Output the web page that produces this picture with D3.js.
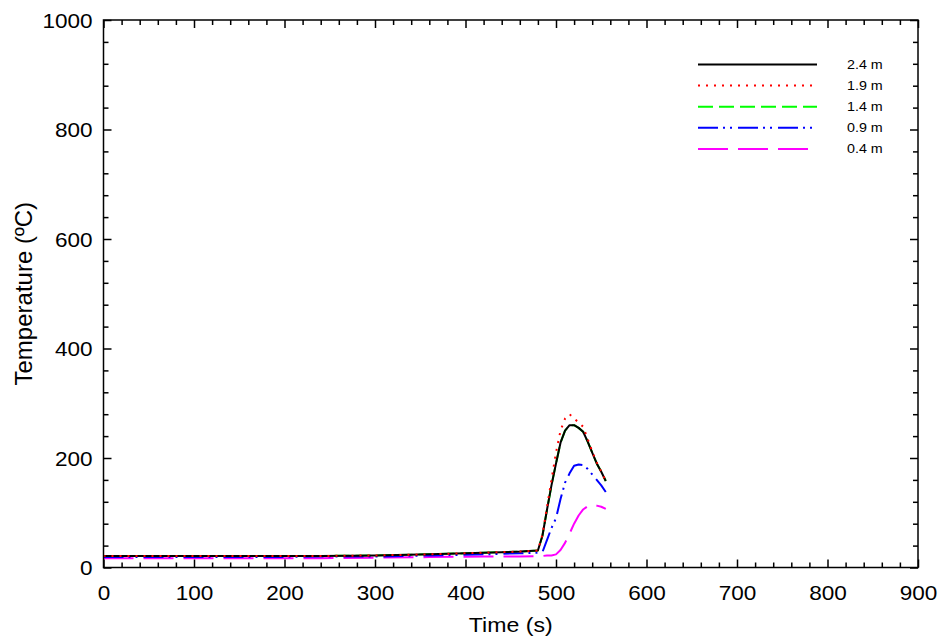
<!DOCTYPE html>
<html>
<head>
<meta charset="utf-8">
<script src="https://cdn.jsdelivr.net/npm/d3@7"></script>
<style>
  html, body { margin: 0; padding: 0; background: #fff; }
  svg text { font-family: "Liberation Sans", Arial, sans-serif; fill: #000; }
</style>
</head>
<body>
<svg id="chart" width="940" height="640"></svg>
<script>
// ---- Data ----
const times = [0, 60, 120, 180, 240, 300, 360, 420, 460, 480, 485, 490, 495, 500, 505, 510, 515, 520, 525, 530, 535, 540, 545, 550, 555];
const temp24 = [21, 21, 21, 21, 21, 22, 24, 27, 29, 31, 58, 105, 150, 190, 228, 250, 260, 260, 255, 248, 230, 210, 190, 175, 158];
const temp19 = [21, 21, 21, 21, 21, 22, 24, 27, 29, 31, 60, 110, 160, 210, 250, 272, 280, 272, 265, 257, 235, 212, 192, 175, 158];
const temp14 = [21, 21, 21, 21, 21, 22, 24, 27, 29, 31, 58, 105, 150, 190, 228, 250, 260, 260, 255, 248, 230, 210, 190, 175, 158];
const temp09 = [19, 19, 19, 19, 20, 20, 22, 24, 26, 27, 28, 50, 72, 90, 125, 155, 172, 186, 188, 187, 180, 170, 160, 150, 138];
const temp04 = [17, 17, 17, 17, 17, 18, 19, 20, 20, 21, 21, 22, 22, 24, 32, 45, 62, 80, 95, 106, 112, 114, 113, 111, 107];
const seriesNames = ["2.4 m", "1.9 m", "1.4 m", "0.9 m", "0.4 m"];
const xTicks = [0, 100, 200, 300, 400, 500, 600, 700, 800, 900];
const yTicks = [0, 200, 400, 600, 800, 1000];

const series = [
  { name: seriesNames[2], values: temp14, color: "#00ff00", dash: "15,6", width: 2 },
  { name: seriesNames[4], values: temp04, color: "#ff00ff", dash: "30,10", width: 2 },
  { name: seriesNames[3], values: temp09, color: "#0000ff", dash: "20,5,2,5,2,6", width: 2 },
  { name: seriesNames[0], values: temp24, color: "#000000", dash: null, width: 2 },
  { name: seriesNames[1], values: temp19, color: "#ff0000", dash: "2,6", width: 2 }
];
const legendOrder = [3, 4, 0, 2, 1];

// ---- Layout ----
const svg = d3.select("#chart");
const m = { left: 103.5, top: 20, right: 918, bottom: 567.5 };
const x = d3.scaleLinear().domain([0, 900]).range([m.left, m.right]);
const y = d3.scaleLinear().domain([0, 1000]).range([m.bottom, m.top]);
const SX = 1.1; // horizontal stretch of glyphs in the reference

const plot = svg.append("g");

// Lines
const line = d3.line().x((d, i) => x(times[i])).y(d => y(d));
series.forEach(s => {
  plot.append("path")
    .datum(s.values)
    .attr("d", line)
    .attr("fill", "none")
    .attr("stroke", s.color)
    .attr("stroke-width", s.width)
    .attr("stroke-dasharray", s.dash)
    .attr("stroke-linejoin", "round");
});

// Axes with inward ticks
const xMinor = d3.range(0, 901, 20).filter(v => v % 100 !== 0);
const yMinor = d3.range(0, 1001, 40).filter(v => v % 200 !== 0);

function axisGroup(axisFn, transform, ticks, size, showLabels) {
  const g = svg.append("g").attr("transform", transform)
    .call(axisFn.tickValues(ticks).tickSize(size).tickFormat(showLabels ? d3.format("d") : ""));
  g.select(".domain").remove();
  g.selectAll("line").attr("stroke", "#000").attr("stroke-width", 1.5);
  return g;
}
// bottom
const gb = axisGroup(d3.axisBottom(x), `translate(0,${m.bottom})`, xTicks, -8, true);
gb.selectAll("text").attr("x", 0).attr("y", 17.5).attr("dy", "0.71em")
  .attr("transform", `scale(${SX},1)`).style("font-size", "20.5px");
axisGroup(d3.axisBottom(x), `translate(0,${m.bottom})`, xMinor, -5, false);
// top
axisGroup(d3.axisTop(x), `translate(0,${m.top})`, xTicks, -8, false);
axisGroup(d3.axisTop(x), `translate(0,${m.top})`, xMinor, -5, false);
// left
const gl = axisGroup(d3.axisLeft(y), `translate(${m.left},0)`, yTicks, -8, true);
gl.selectAll("text").attr("x", -11 / SX).attr("dy", "0.35em")
  .attr("transform", `scale(${SX},1)`).style("font-size", "20.5px");
axisGroup(d3.axisLeft(y), `translate(${m.left},0)`, yMinor, -5, false);
// right
axisGroup(d3.axisRight(y), `translate(${m.right},0)`, yTicks, -8, false);
axisGroup(d3.axisRight(y), `translate(${m.right},0)`, yMinor, -5, false);

// Frame
svg.append("rect")
  .attr("x", m.left).attr("y", m.top)
  .attr("width", m.right - m.left).attr("height", m.bottom - m.top)
  .attr("fill", "none").attr("stroke", "#000").attr("stroke-width", 1.5);

// Axis titles
svg.append("text")
  .attr("transform", `translate(${(m.left + m.right) / 2},632) scale(${SX},1)`)
  .attr("text-anchor", "middle").style("font-size", "21px").text("Time (s)");
svg.append("text")
  .attr("transform", `translate(32,${(m.top + m.bottom) / 2}) rotate(-90)`)
  .attr("text-anchor", "middle").style("font-size", "24px").text("Temperature (ºC)");

// Legend
const lg = svg.append("g");
legendOrder.forEach((si, i) => {
  const s = series[si];
  const ly = 64.5 + i * 21.1;
  lg.append("line").attr("x1", 698).attr("x2", 817).attr("y1", ly).attr("y2", ly)
    .attr("stroke", s.color).attr("stroke-width", 2).attr("stroke-dasharray", s.dash);
  lg.append("text").attr("transform", `translate(847,${ly}) scale(${SX},1)`).attr("dy", "0.35em")
    .style("font-size", "13px").text(s.name);
});
</script>
</body>
</html>
